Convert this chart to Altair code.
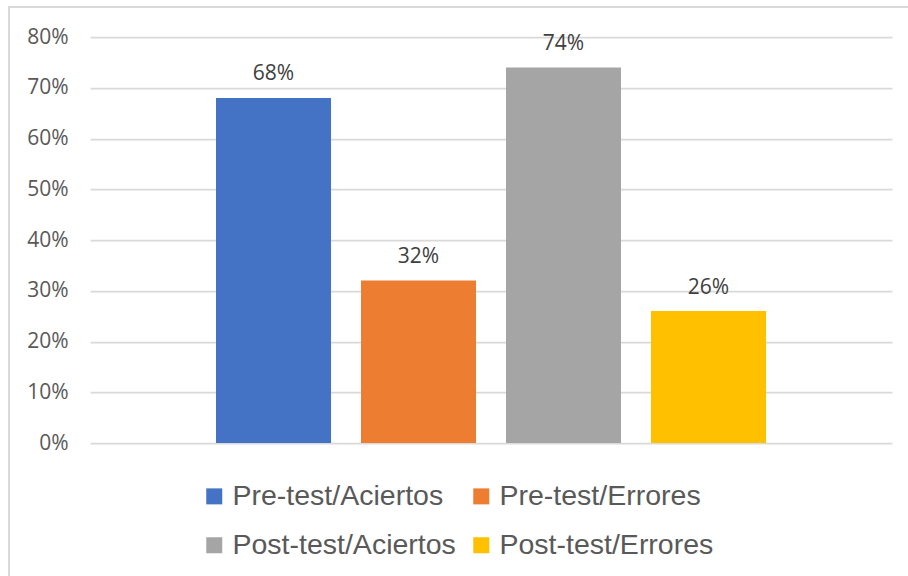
import altair as alt
import pandas as pd

series = ["Pre-test/Aciertos", "Pre-test/Errores", "Post-test/Aciertos", "Post-test/Errores"]
values = [0.68, 0.32, 0.74, 0.26]
colors = ["#4472C4", "#ED7D31", "#A5A5A5", "#FFC000"]
y_ticks = [0, 0.1, 0.2, 0.3, 0.4, 0.5, 0.6, 0.7, 0.8]

df = pd.DataFrame({"series": series, "value": values})

W, H = 802, 406

x_enc = alt.X("series:N", sort=series, axis=None,
              scale=alt.Scale(paddingInner=0.2069, paddingOuter=0.869))
y_scale = alt.Scale(domain=[0, 0.8], nice=False)

bars = alt.Chart(df).mark_bar().encode(
    x=x_enc,
    y=alt.Y("value:Q", scale=y_scale,
            axis=alt.Axis(values=y_ticks, format=".0%", title=None, domain=False,
                          ticks=False, labelPadding=22, labelFontSize=21,
                          labelFont="Open Sans", labelColor="#595959",
                          grid=True, gridColor="#D9D9D9", gridWidth=1.75)),
    color=alt.Color("series:N", sort=series,
                    scale=alt.Scale(domain=series, range=colors),
                    legend=alt.Legend(title=None, orient="none", legendX=110, legendY=445,
                                      direction="horizontal",
                                      columns=2, columnPadding=11, rowPadding=20,
                                      symbolType="square", symbolSize=256,
                                      symbolStrokeWidth=0, labelOffset=4,
                                      labelFont="Liberation Sans", labelFontSize=28.5,
                                      labelColor="#595959", padding=0,
                                      labelLimit=400)),
)

labels = alt.Chart(df).mark_text(
    baseline="alphabetic", dy=-17.5, font="Open Sans", fontSize=21, color="#404040"
).encode(
    x=x_enc,
    y=alt.Y("value:Q", scale=y_scale),
    text=alt.Text("value:Q", format=".0%"),
)

border = alt.Chart(df).mark_rect(
    fill=None, stroke="#D9D9D9", strokeWidth=2
).encode(
    x=alt.value(-81), x2=alt.value(830), y=alt.value(-30), y2=alt.value(550)
)

chart = alt.layer(border, bars, labels).properties(
    width=W, height=H,
    autosize=alt.AutoSizeParams(type="none"),
    padding={"left": 90, "top": 37, "right": 16, "bottom": 133},
    background="white",
).configure_view(stroke=None)

chart.save("out.html", embed_options={"renderer": "svg", "actions": False})
